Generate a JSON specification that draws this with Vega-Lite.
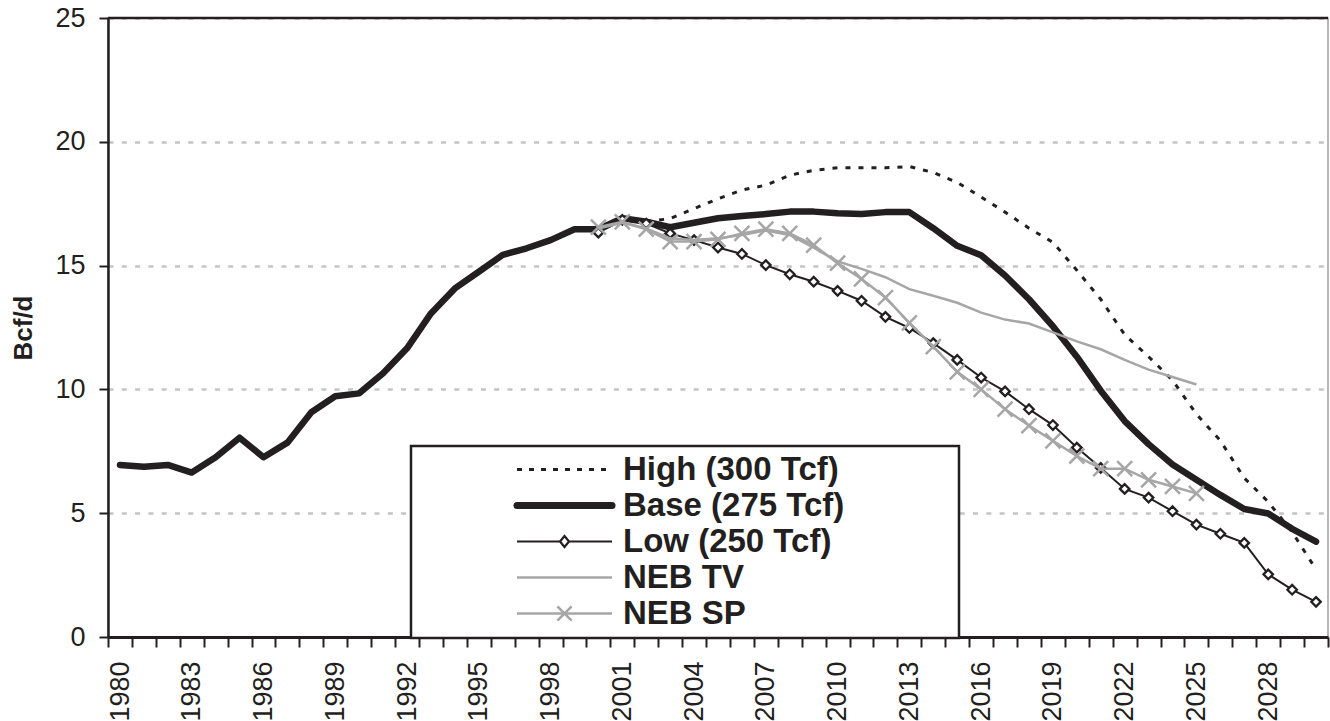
{
  "$schema": "https://vega.github.io/schema/vega-lite/v6.json",
  "autosize": {"type": "none"},
  "padding": {"left": 108, "top": 18, "right": 2, "bottom": 84},
  "width": 1220,
  "height": 619,
  "config": {
    "font": "Liberation Sans",
    "view": {"stroke": "#a0a0a0", "strokeWidth": 1.5},
    "background": "white"
  },
  "data": {"values": [
    {"s": "Base (275 Tcf)", "year": 1980, "v": 6.95},
    {"s": "Base (275 Tcf)", "year": 1981, "v": 6.88},
    {"s": "Base (275 Tcf)", "year": 1982, "v": 6.95},
    {"s": "Base (275 Tcf)", "year": 1983, "v": 6.64},
    {"s": "Base (275 Tcf)", "year": 1984, "v": 7.26},
    {"s": "Base (275 Tcf)", "year": 1985, "v": 8.05},
    {"s": "Base (275 Tcf)", "year": 1986, "v": 7.26},
    {"s": "Base (275 Tcf)", "year": 1987, "v": 7.85},
    {"s": "Base (275 Tcf)", "year": 1988, "v": 9.08},
    {"s": "Base (275 Tcf)", "year": 1989, "v": 9.72},
    {"s": "Base (275 Tcf)", "year": 1990, "v": 9.84},
    {"s": "Base (275 Tcf)", "year": 1991, "v": 10.65},
    {"s": "Base (275 Tcf)", "year": 1992, "v": 11.66},
    {"s": "Base (275 Tcf)", "year": 1993, "v": 13.07},
    {"s": "Base (275 Tcf)", "year": 1994, "v": 14.08},
    {"s": "Base (275 Tcf)", "year": 1995, "v": 14.75},
    {"s": "Base (275 Tcf)", "year": 1996, "v": 15.43},
    {"s": "Base (275 Tcf)", "year": 1997, "v": 15.7},
    {"s": "Base (275 Tcf)", "year": 1998, "v": 16.03},
    {"s": "Base (275 Tcf)", "year": 1999, "v": 16.47},
    {"s": "Base (275 Tcf)", "year": 2000, "v": 16.47},
    {"s": "Base (275 Tcf)", "year": 2001, "v": 16.91},
    {"s": "Base (275 Tcf)", "year": 2002, "v": 16.77},
    {"s": "Base (275 Tcf)", "year": 2003, "v": 16.55},
    {"s": "Base (275 Tcf)", "year": 2004, "v": 16.73},
    {"s": "Base (275 Tcf)", "year": 2005, "v": 16.91},
    {"s": "Base (275 Tcf)", "year": 2006, "v": 17.0},
    {"s": "Base (275 Tcf)", "year": 2007, "v": 17.08},
    {"s": "Base (275 Tcf)", "year": 2008, "v": 17.18},
    {"s": "Base (275 Tcf)", "year": 2009, "v": 17.18},
    {"s": "Base (275 Tcf)", "year": 2010, "v": 17.11},
    {"s": "Base (275 Tcf)", "year": 2011, "v": 17.08},
    {"s": "Base (275 Tcf)", "year": 2012, "v": 17.16},
    {"s": "Base (275 Tcf)", "year": 2013, "v": 17.16},
    {"s": "Base (275 Tcf)", "year": 2014, "v": 16.51},
    {"s": "Base (275 Tcf)", "year": 2015, "v": 15.8},
    {"s": "Base (275 Tcf)", "year": 2016, "v": 15.42},
    {"s": "Base (275 Tcf)", "year": 2017, "v": 14.6},
    {"s": "Base (275 Tcf)", "year": 2018, "v": 13.64},
    {"s": "Base (275 Tcf)", "year": 2019, "v": 12.55},
    {"s": "Base (275 Tcf)", "year": 2020, "v": 11.32},
    {"s": "Base (275 Tcf)", "year": 2021, "v": 9.95},
    {"s": "Base (275 Tcf)", "year": 2022, "v": 8.72},
    {"s": "Base (275 Tcf)", "year": 2023, "v": 7.79},
    {"s": "Base (275 Tcf)", "year": 2024, "v": 6.97},
    {"s": "Base (275 Tcf)", "year": 2025, "v": 6.35},
    {"s": "Base (275 Tcf)", "year": 2026, "v": 5.74},
    {"s": "Base (275 Tcf)", "year": 2027, "v": 5.17},
    {"s": "Base (275 Tcf)", "year": 2028, "v": 4.99},
    {"s": "Base (275 Tcf)", "year": 2029, "v": 4.37},
    {"s": "Base (275 Tcf)", "year": 2030, "v": 3.85},
    {"s": "High (300 Tcf)", "year": 2002, "v": 16.77},
    {"s": "High (300 Tcf)", "year": 2003, "v": 16.9},
    {"s": "High (300 Tcf)", "year": 2004, "v": 17.3},
    {"s": "High (300 Tcf)", "year": 2005, "v": 17.7},
    {"s": "High (300 Tcf)", "year": 2006, "v": 18.05},
    {"s": "High (300 Tcf)", "year": 2007, "v": 18.25},
    {"s": "High (300 Tcf)", "year": 2008, "v": 18.65},
    {"s": "High (300 Tcf)", "year": 2009, "v": 18.85},
    {"s": "High (300 Tcf)", "year": 2010, "v": 18.95},
    {"s": "High (300 Tcf)", "year": 2011, "v": 18.95},
    {"s": "High (300 Tcf)", "year": 2012, "v": 18.95},
    {"s": "High (300 Tcf)", "year": 2013, "v": 19.0},
    {"s": "High (300 Tcf)", "year": 2014, "v": 18.76},
    {"s": "High (300 Tcf)", "year": 2015, "v": 18.36},
    {"s": "High (300 Tcf)", "year": 2016, "v": 17.77},
    {"s": "High (300 Tcf)", "year": 2017, "v": 17.16},
    {"s": "High (300 Tcf)", "year": 2018, "v": 16.51},
    {"s": "High (300 Tcf)", "year": 2019, "v": 15.94},
    {"s": "High (300 Tcf)", "year": 2020, "v": 14.81},
    {"s": "High (300 Tcf)", "year": 2021, "v": 13.64},
    {"s": "High (300 Tcf)", "year": 2022, "v": 12.21},
    {"s": "High (300 Tcf)", "year": 2023, "v": 11.32},
    {"s": "High (300 Tcf)", "year": 2024, "v": 10.37},
    {"s": "High (300 Tcf)", "year": 2025, "v": 9.0},
    {"s": "High (300 Tcf)", "year": 2026, "v": 7.93},
    {"s": "High (300 Tcf)", "year": 2027, "v": 6.42},
    {"s": "High (300 Tcf)", "year": 2028, "v": 5.46},
    {"s": "High (300 Tcf)", "year": 2029, "v": 4.24},
    {"s": "High (300 Tcf)", "year": 2030, "v": 2.73},
    {"s": "Low (250 Tcf)", "year": 2000, "v": 16.33},
    {"s": "Low (250 Tcf)", "year": 2001, "v": 16.85},
    {"s": "Low (250 Tcf)", "year": 2002, "v": 16.7},
    {"s": "Low (250 Tcf)", "year": 2003, "v": 16.3},
    {"s": "Low (250 Tcf)", "year": 2004, "v": 16.03},
    {"s": "Low (250 Tcf)", "year": 2005, "v": 15.73},
    {"s": "Low (250 Tcf)", "year": 2006, "v": 15.47},
    {"s": "Low (250 Tcf)", "year": 2007, "v": 15.02},
    {"s": "Low (250 Tcf)", "year": 2008, "v": 14.65},
    {"s": "Low (250 Tcf)", "year": 2009, "v": 14.35},
    {"s": "Low (250 Tcf)", "year": 2010, "v": 13.98},
    {"s": "Low (250 Tcf)", "year": 2011, "v": 13.58},
    {"s": "Low (250 Tcf)", "year": 2012, "v": 12.93},
    {"s": "Low (250 Tcf)", "year": 2013, "v": 12.48},
    {"s": "Low (250 Tcf)", "year": 2014, "v": 11.87},
    {"s": "Low (250 Tcf)", "year": 2015, "v": 11.19},
    {"s": "Low (250 Tcf)", "year": 2016, "v": 10.48},
    {"s": "Low (250 Tcf)", "year": 2017, "v": 9.92},
    {"s": "Low (250 Tcf)", "year": 2018, "v": 9.2},
    {"s": "Low (250 Tcf)", "year": 2019, "v": 8.56},
    {"s": "Low (250 Tcf)", "year": 2020, "v": 7.65},
    {"s": "Low (250 Tcf)", "year": 2021, "v": 6.83},
    {"s": "Low (250 Tcf)", "year": 2022, "v": 5.98},
    {"s": "Low (250 Tcf)", "year": 2023, "v": 5.63},
    {"s": "Low (250 Tcf)", "year": 2024, "v": 5.08},
    {"s": "Low (250 Tcf)", "year": 2025, "v": 4.54},
    {"s": "Low (250 Tcf)", "year": 2026, "v": 4.17},
    {"s": "Low (250 Tcf)", "year": 2027, "v": 3.8},
    {"s": "Low (250 Tcf)", "year": 2028, "v": 2.53},
    {"s": "Low (250 Tcf)", "year": 2029, "v": 1.91},
    {"s": "Low (250 Tcf)", "year": 2030, "v": 1.42},
    {"s": "NEB TV", "year": 2000, "v": 16.5},
    {"s": "NEB TV", "year": 2001, "v": 16.73},
    {"s": "NEB TV", "year": 2002, "v": 16.5},
    {"s": "NEB TV", "year": 2003, "v": 16.1},
    {"s": "NEB TV", "year": 2004, "v": 16.03},
    {"s": "NEB TV", "year": 2005, "v": 16.1},
    {"s": "NEB TV", "year": 2006, "v": 16.24},
    {"s": "NEB TV", "year": 2007, "v": 16.42},
    {"s": "NEB TV", "year": 2008, "v": 16.24},
    {"s": "NEB TV", "year": 2009, "v": 15.72},
    {"s": "NEB TV", "year": 2010, "v": 15.17},
    {"s": "NEB TV", "year": 2011, "v": 14.87},
    {"s": "NEB TV", "year": 2012, "v": 14.53},
    {"s": "NEB TV", "year": 2013, "v": 14.05},
    {"s": "NEB TV", "year": 2014, "v": 13.78},
    {"s": "NEB TV", "year": 2015, "v": 13.5},
    {"s": "NEB TV", "year": 2016, "v": 13.1},
    {"s": "NEB TV", "year": 2017, "v": 12.82},
    {"s": "NEB TV", "year": 2018, "v": 12.66},
    {"s": "NEB TV", "year": 2019, "v": 12.3},
    {"s": "NEB TV", "year": 2020, "v": 11.94},
    {"s": "NEB TV", "year": 2021, "v": 11.62},
    {"s": "NEB TV", "year": 2022, "v": 11.19},
    {"s": "NEB TV", "year": 2023, "v": 10.8},
    {"s": "NEB TV", "year": 2024, "v": 10.5},
    {"s": "NEB TV", "year": 2025, "v": 10.2},
    {"s": "NEB SP", "year": 2000, "v": 16.55},
    {"s": "NEB SP", "year": 2001, "v": 16.77},
    {"s": "NEB SP", "year": 2002, "v": 16.47},
    {"s": "NEB SP", "year": 2003, "v": 15.97},
    {"s": "NEB SP", "year": 2004, "v": 15.97},
    {"s": "NEB SP", "year": 2005, "v": 16.06},
    {"s": "NEB SP", "year": 2006, "v": 16.3},
    {"s": "NEB SP", "year": 2007, "v": 16.47},
    {"s": "NEB SP", "year": 2008, "v": 16.3},
    {"s": "NEB SP", "year": 2009, "v": 15.83},
    {"s": "NEB SP", "year": 2010, "v": 15.1},
    {"s": "NEB SP", "year": 2011, "v": 14.46},
    {"s": "NEB SP", "year": 2012, "v": 13.71},
    {"s": "NEB SP", "year": 2013, "v": 12.69},
    {"s": "NEB SP", "year": 2014, "v": 11.73},
    {"s": "NEB SP", "year": 2015, "v": 10.71},
    {"s": "NEB SP", "year": 2016, "v": 10.0},
    {"s": "NEB SP", "year": 2017, "v": 9.2},
    {"s": "NEB SP", "year": 2018, "v": 8.54},
    {"s": "NEB SP", "year": 2019, "v": 7.92},
    {"s": "NEB SP", "year": 2020, "v": 7.31},
    {"s": "NEB SP", "year": 2021, "v": 6.8},
    {"s": "NEB SP", "year": 2022, "v": 6.8},
    {"s": "NEB SP", "year": 2023, "v": 6.35},
    {"s": "NEB SP", "year": 2024, "v": 6.08},
    {"s": "NEB SP", "year": 2025, "v": 5.8}
  ]},
  "layer": [
    {
      "encoding": {
        "x": {
          "field": "year", "type": "quantitative",
          "scale": {"domain": [1979.5, 2030.5], "nice": false, "zero": false},
          "axis": {
            "title": null,
            "grid": false,
            "values": [1979.5,1980.5,1981.5,1982.5,1983.5,1984.5,1985.5,1986.5,1987.5,1988.5,1989.5,1990.5,1991.5,1992.5,1993.5,1994.5,1995.5,1996.5,1997.5,1998.5,1999.5,2000.5,2001.5,2002.5,2003.5,2004.5,2005.5,2006.5,2007.5,2008.5,2009.5,2010.5,2011.5,2012.5,2013.5,2014.5,2015.5,2016.5,2017.5,2018.5,2019.5,2020.5,2021.5,2022.5,2023.5,2024.5,2025.5,2026.5,2027.5,2028.5,2029.5,2030.5],
            "labelExpr": "((datum.value + 0.5 - 1980) % 3 == 0 && datum.value < 2029) ? '' + (datum.value + 0.5) : ''",
            "labelAngle": 270,
            "labelAlign": "right",
            "labelBaseline": "middle",
            "labelOffset": 12,
            "labelFlush": false,
            "labelOverlap": false,
            "labelBound": false,
            "labelFontSize": 27,
            "labelColor": "#231f20",
            "labelPadding": 14,
            "tickSize": 10,
            "tickWidth": 2,
            "tickColor": "#231f20",
            "domainColor": "#231f20",
            "domainWidth": 3
          }
        },
        "y": {
          "field": "v", "type": "quantitative",
          "scale": {"domain": [0, 25], "nice": false},
          "axis": {
            "title": "Bcf/d",
            "titleFontSize": 26,
            "titleFontWeight": "bold",
            "titleColor": "#231f20",
            "titlePadding": 18,
            "values": [0, 5, 10, 15, 20, 25],
            "grid": true,
            "gridColor": "#c4c4c4",
            "gridDash": [5, 8.3],
            "gridWidth": 2.5,
            "domainColor": "#231f20",
            "domainWidth": 2.5,
            "tickColor": "#231f20",
            "tickSize": 9,
            "tickWidth": 2,
            "labelFontSize": 27,
            "labelColor": "#231f20",
            "labelPadding": 14
          }
        },
        "color": {
          "field": "s", "type": "nominal",
          "scale": {
            "domain": ["High (300 Tcf)", "Base (275 Tcf)", "Low (250 Tcf)", "NEB TV", "NEB SP"],
            "range": ["#231f20", "#231f20", "#231f20", "#a6a6a6", "#a6a6a6"]
          },
          "legend": {
            "title": " ",
            "titleOrient": "right",
            "titleFontSize": 1,
            "titlePadding": 108,
            "orient": "none",
            "legendX": 303,
            "legendY": 428,
            "padding": 7,
            "symbolOffset": 130,
            "symbolSize": 9025,
            "clipHeight": 33,
            "rowPadding": 2,
            "labelOffset": 42,
            "labelFontSize": 33,
            "labelFontWeight": "bold",
            "labelColor": "#231f20",
            "labelLimit": 0,
            "encode": {
              "legend": {"update": {"stroke": {"value": "#231f20"}, "strokeWidth": {"value": 2.5}, "fill": {"value": "white"}}},
              "symbols": {"update": {
                "shape": {"signal": "datum.value === 'Low (250 Tcf)' ? 'M-1,0L-0.095,0M0.095,0L1,0M0,-0.115L0.095,0L0,0.115L-0.095,0Z' : (datum.value === 'NEB SP' ? 'M-1,0L1,0M-0.15,-0.15L0.15,0.15M-0.15,0.15L0.15,-0.15' : 'M-1,0L1,0')"},
                "size": {"value": 9025},
                "strokeWidth": {"signal": "datum.value === 'Base (275 Tcf)' ? 7 : (datum.value === 'High (300 Tcf)' ? 3 : (datum.value === 'Low (250 Tcf)' ? 2.2 : 2.5))"},
                "strokeDash": {"signal": "datum.value === 'High (300 Tcf)' ? [5, 7] : []"},
                "strokeCap": {"signal": "datum.value === 'Base (275 Tcf)' ? 'round' : 'butt'"},
                "fill": {"signal": "datum.value === 'Low (250 Tcf)' ? 'white' : 'transparent'"},
                "opacity": {"value": 1}
              }}
            }
          }
        }
      },
      "layer": [
        {
          "transform": [{"filter": {"field": "s", "equal": "High (300 Tcf)"}}],
          "mark": {"type": "line", "strokeWidth": 3, "strokeDash": [5, 8]}
        },
        {
          "transform": [{"filter": {"field": "s", "equal": "Base (275 Tcf)"}}],
          "mark": {"type": "line", "strokeWidth": 6.5, "strokeJoin": "round", "strokeCap": "round"}
        },
        {
          "transform": [{"filter": {"field": "s", "equal": "Low (250 Tcf)"}}],
          "mark": {"type": "line", "strokeWidth": 2}
        },
        {
          "transform": [{"filter": {"field": "s", "equal": "Low (250 Tcf)"}}],
          "mark": {"type": "point", "shape": "diamond", "size": 90, "strokeWidth": 2.3, "filled": false, "fill": "white", "opacity": 1}
        },
        {
          "transform": [{"filter": {"field": "s", "equal": "NEB TV"}}],
          "mark": {"type": "line", "strokeWidth": 2.5}
        },
        {
          "transform": [{"filter": {"field": "s", "equal": "NEB SP"}}],
          "mark": {"type": "line", "strokeWidth": 2.5}
        },
        {
          "transform": [{"filter": {"field": "s", "equal": "NEB SP"}}],
          "mark": {"type": "point", "shape": "M-1,-1L1,1M-1,1L1,-1", "size": 225, "strokeWidth": 2.5, "filled": false, "opacity": 1}
        }
      ]
    },
    {
      "data": {"values": [{}]},
      "mark": {"type": "rule", "color": "#231f20", "strokeWidth": 2.5},
      "encoding": {"y": {"datum": 25, "type": "quantitative", "scale": {"domain": [0, 25], "nice": false}}}
    }
  ]
}
